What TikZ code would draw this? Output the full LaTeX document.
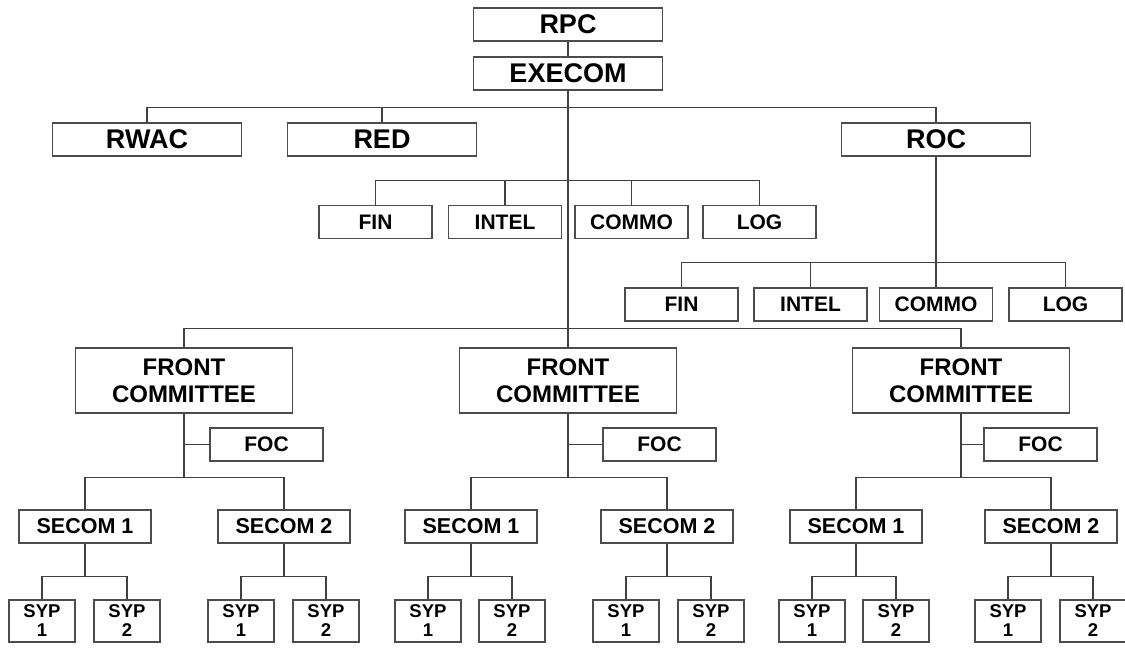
\documentclass[tikz,border=0pt]{standalone}
\usepackage{fontspec}
\setmainfont{Liberation Sans}

\begin{document}
\begin{tikzpicture}[x=1pt,y=-1pt,
    unit/.style={draw=black!70,line width=1.2pt,inner sep=0pt,align=center},
    topbox/.style={unit,minimum width=189pt,minimum height=33pt,font=\bfseries\fontsize{27}{29}\selectfont},
    deptbox/.style={unit,minimum width=113pt,minimum height=33pt,font=\bfseries\fontsize{21}{23}\selectfont},
    frontbox/.style={unit,minimum width=217pt,minimum height=65pt,font=\bfseries\fontsize{24}{27}\selectfont},
    secbox/.style={unit,minimum width=132pt,minimum height=33pt,font=\bfseries\fontsize{21.5}{23}\selectfont},
    sypbox/.style={unit,minimum width=66pt,minimum height=42pt,font=\bfseries\fontsize{18.5}{19}\selectfont},
    link/.style={draw=black!75,line width=1.1pt}]
    \useasboundingbox (0,0) rectangle (1125,649);
    % top of the tree
    \node[topbox] (rpc) at (568,24.5) {RPC};
    \node[topbox] (execom) at (568,73.5) {EXECOM};
    \node[topbox] (rwac) at (147,139.5) {RWAC};
    \node[topbox] (red) at (382,139.5) {RED};
    \node[topbox] (roc) at (936,139.5) {ROC};
    \draw[link] (rpc) -- (execom);
    \draw[link] (execom.south) -- ++(0,17) -| (rwac.north);% left branch
    \draw[link] (execom.south) -- ++(0,17) -| (red.north);
    \draw[link] (execom.south) -- ++(0,17) -| (roc.north);% right branch
    % staff under execom
    \node[deptbox] (finA) at (375.5,222) {FIN};
    \node[deptbox] (intelA) at (505,222) {INTEL};
    \node[deptbox] (commoA) at (631.5,222) {COMMO};
    \node[deptbox] (logA) at (759.5,222) {LOG};
    \draw[link] (finA.north) -- ++(0,-24) -| (logA.north);
    \draw[link] (intelA.north) -- ++(0,-24);
    \draw[link] (commoA.north) -- ++(0,-24);
    % staff under roc
    \node[deptbox] (finB) at (681.5,304.5) {FIN};
    \node[deptbox] (intelB) at (810.5,304.5) {INTEL};
    \node[deptbox] (commoB) at (936,304.5) {COMMO};
    \node[deptbox] (logB) at (1065.5,304.5) {LOG};
    \draw[link] (roc) -- (commoB);
    \draw[link] (finB.north) -- ++(0,-25) -| (logB.north);
    \draw[link] (intelB.north) -- ++(0,-25);
    % front committees
    \node[frontbox] (fcA) at (184,380.5) {FRONT\\COMMITTEE};
    \node[frontbox] (fcB) at (568,380.5) {FRONT\\COMMITTEE};
    \node[frontbox] (fcC) at (961,380.5) {FRONT\\COMMITTEE};
    \draw[link] (execom) -- (fcB);% main line
    \draw[link] (fcA.north) -- ++(0,-19) -| (fcC.north);
    % foc boxes
    \node[deptbox] (focA) at (266.5,444.5) {FOC};
    \node[deptbox] (focB) at (659.5,444.5) {FOC};
    \node[deptbox] (focC) at (1040.5,444.5) {FOC};
    \draw[link] (focA.west) -- (focA.west -| fcA.south);
    \draw[link] (focB.west) -- (focB.west -| fcB.south);
    \draw[link] (focC.west) -- (focC.west -| fcC.south);
    % section committees
    \node[secbox] (secA1) at (85,526.5) {SECOM 1};
    \node[secbox] (secA2) at (284,526.5) {SECOM 2};
    \node[secbox] (secB1) at (471,526.5) {SECOM 1};
    \node[secbox] (secB2) at (667,526.5) {SECOM 2};
    \node[secbox] (secC1) at (856,526.5) {SECOM 1};
    \node[secbox] (secC2) at (1051,526.5) {SECOM 2};
    \draw[link] (fcA.south) -- ++(0,64) -| (secA1.north);
    \draw[link] (fcA.south) -- ++(0,64) -| (secA2.north);
    \draw[link] (fcB.south) -- ++(0,64) -| (secB1.north);
    \draw[link] (fcB.south) -- ++(0,64) -| (secB2.north);
    \draw[link] (fcC.south) -- ++(0,64) -| (secC1.north);
    \draw[link] (fcC.south) -- ++(0,64) -| (secC2.north);
    % syp boxes
    \node[sypbox] (sypA11) at (42,621) {SYP\\1};
    \node[sypbox] (sypA12) at (127,621) {SYP\\2};
    \node[sypbox] (sypA21) at (241,621) {SYP\\1};
    \node[sypbox] (sypA22) at (326,621) {SYP\\2};
    \node[sypbox] (sypB11) at (428,621) {SYP\\1};
    \node[sypbox] (sypB12) at (512,621) {SYP\\2};
    \node[sypbox] (sypB21) at (626,621) {SYP\\1};
    \node[sypbox] (sypB22) at (711,621) {SYP\\2};
    \node[sypbox] (sypC11) at (812,621) {SYP\\1};
    \node[sypbox] (sypC12) at (896,621) {SYP\\2};
    \node[sypbox] (sypC21) at (1008,621) {SYP\\1};
    \node[sypbox] (sypC22) at (1093,621) {SYP\\2};
    \draw[link] (secA1.south) -- ++(0,33) -| (sypA11.north);
    \draw[link] (secA1.south) -- ++(0,33) -| (sypA12.north);
    \draw[link] (secA2.south) -- ++(0,33) -| (sypA21.north);
    \draw[link] (secA2.south) -- ++(0,33) -| (sypA22.north);
    \draw[link] (secB1.south) -- ++(0,33) -| (sypB11.north);
    \draw[link] (secB1.south) -- ++(0,33) -| (sypB12.north);
    \draw[link] (secB2.south) -- ++(0,33) -| (sypB21.north);
    \draw[link] (secB2.south) -- ++(0,33) -| (sypB22.north);
    \draw[link] (secC1.south) -- ++(0,33) -| (sypC11.north);
    \draw[link] (secC1.south) -- ++(0,33) -| (sypC12.north);
    \draw[link] (secC2.south) -- ++(0,33) -| (sypC21.north);
    \draw[link] (secC2.south) -- ++(0,33) -| (sypC22.north);
\end{tikzpicture}
\end{document}
